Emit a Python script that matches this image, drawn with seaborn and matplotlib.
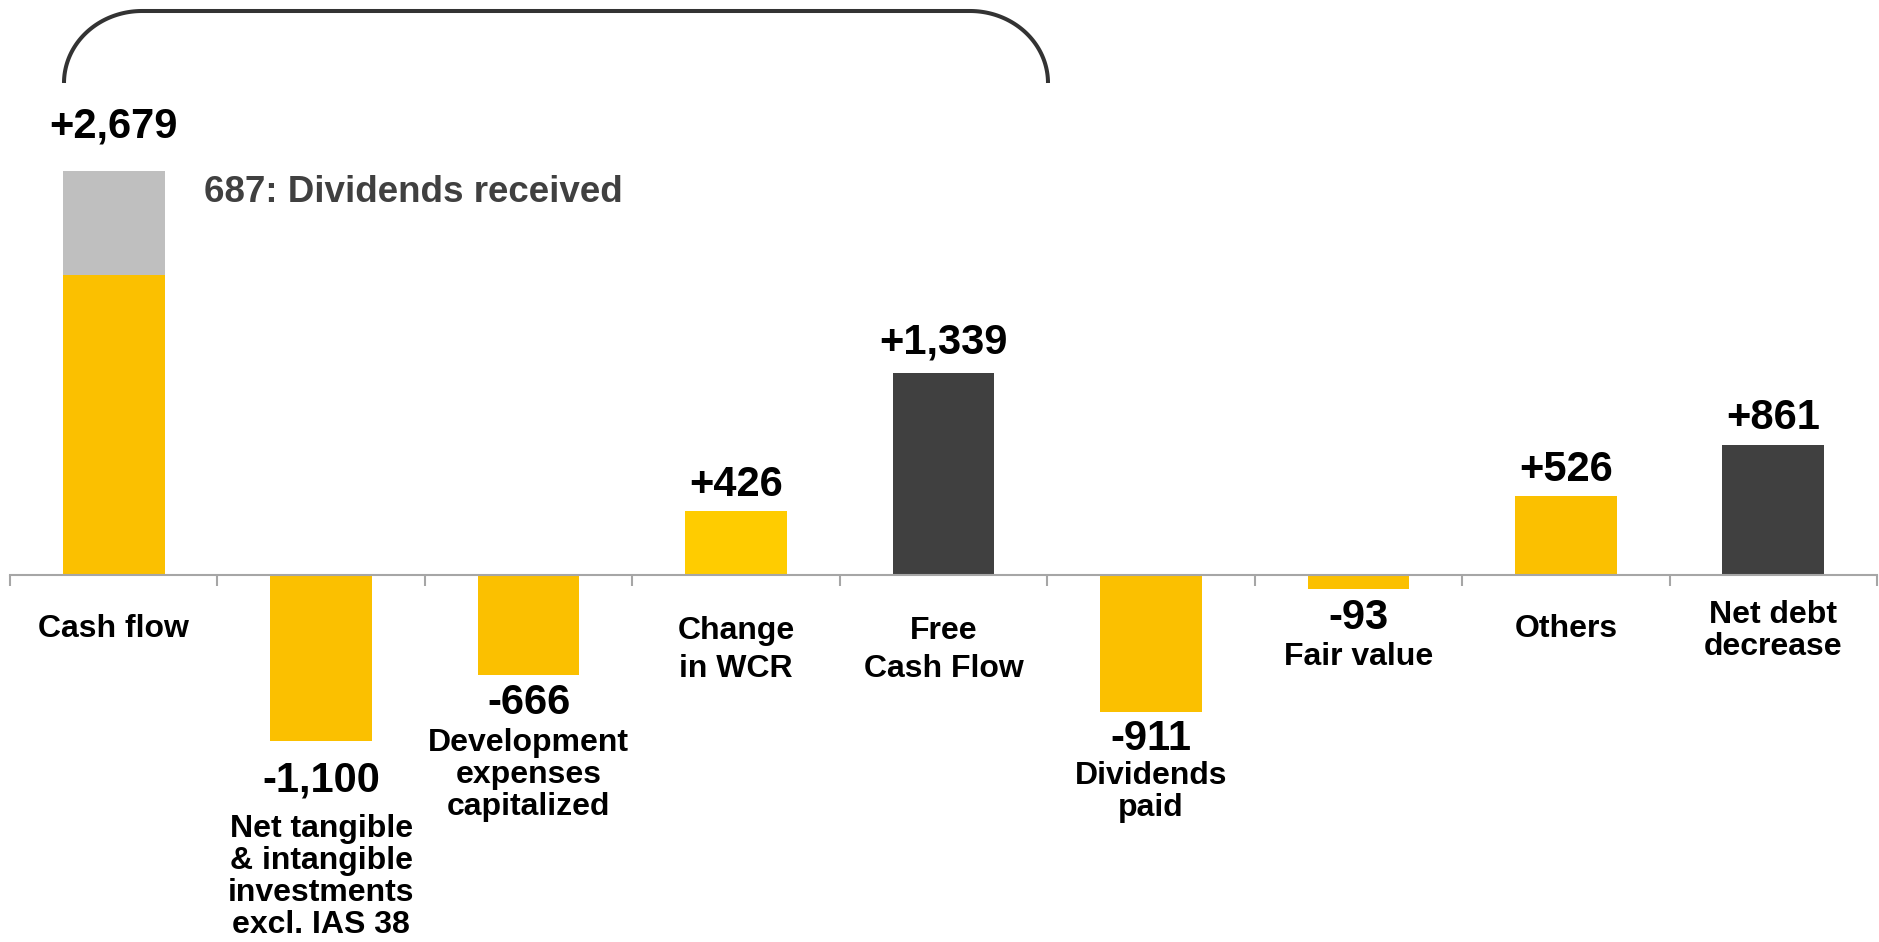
import numpy as np
import matplotlib
matplotlib.use("Agg")
import matplotlib.pyplot as plt
import matplotlib.transforms as mtransforms
import seaborn as sns

# data (EUR m)
categories = ["Cash flow", "Net investments", "Development", "Change in WCR",
              "Free Cash Flow", "Dividends paid", "Fair value", "Others", "Net debt decrease"]
values = [2679, -1100, -666, 426, 1339, -911, -93, 526, 861]
dividends_received = 687
cat_labels = ["Cash flow",
              "Net tangible\n& intangible\ninvestments\nexcl. IAS 38",
              "Development\nexpenses\ncapitalized",
              "Change\nin WCR",
              "Free\nCash Flow",
              "Dividends\npaid",
              "Fair value",
              "Others",
              "Net debt\ndecrease"]

YELLOW = "#FBC000"
colors = {c: YELLOW for c in categories}
colors["Change in WCR"] = "#FFCC00"
colors["Free Cash Flow"] = "#404040"
colors["Net debt decrease"] = "#404040"

sns.set_style("white")
plt.rcParams["font.family"] = ["Liberation Sans", "DejaVu Sans"]

W, H = 1879, 942
fig = plt.figure(figsize=(W / 100, H / 100), dpi=100)
ax = fig.add_axes([10 / W, 0, 1867 / W, 1])

sns.barplot(x=categories, y=values, hue=categories, palette=colors, width=0.49,
            saturation=1, legend=False, linewidth=0, ax=ax)
# dividends received on top of cash flow
ax.bar(0, dividends_received, bottom=values[0] - dividends_received, width=0.49,
       color="#BFBFBF", linewidth=0, zorder=3)

ax.set_xlim(-0.5, 8.5)
ax.set_ylim(-2434, 3813)
for s in ["left", "right", "top"]:
    ax.spines[s].set_visible(False)
ax.spines["bottom"].set_position(("data", 0))
ax.spines["bottom"].set_color("#A6A6A6")
ax.spines["bottom"].set_linewidth(1.5)
ax.set_xticks(np.arange(-0.5, 9))
ax.set_xticklabels([])
ax.tick_params(axis="x", length=8, width=1.5, color="#A6A6A6", direction="out", bottom=True)
ax.set_yticks([])
ax.set_xlabel("")
ax.set_ylabel("")

# text positions (pixel rows from top)
trans = mtransforms.blended_transform_factory(ax.transData, fig.transFigure)
val_y = [126, 780, 703, 485, 343, 739, 618, 470, 418]
lab_y = [629, 877, 775, 650, 650, 792, 657, 629, 631]
lab_sp = [1.08, 1.08, 1.08, 1.37, 1.37, 1.1, 1.08, 1.08, 1.1]

for i, v in enumerate(values):
    ax.text(i, 1 - val_y[i] / H, f"{v:+,}", transform=trans, ha="center", va="center",
            fontsize=30, fontweight="bold", color="black")
    ax.text(i, 1 - lab_y[i] / H, cat_labels[i], transform=trans, ha="center", va="center",
            fontsize=23, fontweight="bold", color="black", linespacing=lab_sp[i],
            multialignment="center")

fig.text(204 / W, 1 - 192 / H, f"{dividends_received}: Dividends received", ha="left",
         va="center", fontsize=26.5, fontweight="bold", color="#404040")

# bracket over the free cash flow items
x0, x1, ytop, ybot = 64, 1048, 11, 83
rx, ry = 78, 72
t = np.linspace(0, np.pi / 2, 60)
lx = x0 + rx - rx * np.cos(t)
ly = ytop + ry - ry * np.sin(t)
rxs = x1 - rx + rx * np.cos(t[::-1])
rys = ytop + ry - ry * np.sin(t[::-1])
px = np.concatenate([[x0], lx, rxs, [x1]])
py = np.concatenate([[ybot], ly, rys, [ybot]])
ax.plot(px / W, 1 - py / H, color="#333333", lw=2.9, transform=fig.transFigure,
        clip_on=False, solid_capstyle="butt")

fig.savefig("out.png", dpi=100)
